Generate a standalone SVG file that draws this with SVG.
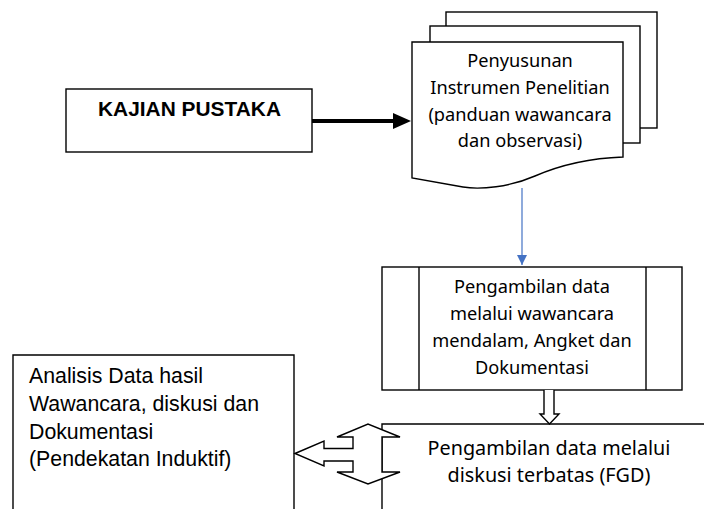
<svg xmlns="http://www.w3.org/2000/svg" width="704" height="509" viewBox="0 0 704 509">
<style>
.s{fill:#fff;stroke:#000;stroke-width:1.4}
.t{font-family:"Noto Sans","DejaVu Sans",sans-serif;font-size:18.2px;fill:#000;text-anchor:middle}
.f{font-size:19.8px}
.a{font-family:"Liberation Sans",Arial,sans-serif;font-size:21.3px;fill:#000}
</style>
<defs>
<marker id="blue" markerWidth="10" markerHeight="10" refX="10" refY="5" orient="auto" markerUnits="userSpaceOnUse">
<path d="M0,0 L10,5 L0,10 Z" fill="#4472C4"/>
</marker>
</defs>
<rect width="704" height="509" fill="#fff"/>
<g id="kajian">
<rect class="s" x="66" y="89" width="246" height="63"/>
<text x="189.5" y="116" font-family="'Liberation Sans',Arial,sans-serif" font-size="20.9" font-weight="bold" text-anchor="middle">KAJIAN PUSTAKA</text>
</g>
<g id="instrumen">
<rect class="s" x="446" y="12" width="211" height="116"/>
<rect class="s" x="430" y="26" width="210" height="117"/>
<path class="s" d="M412,42 L623,42 L623,157 C595,158 565,163 535,176 C510,187 480,190 463,187 L412,178 Z"/>
<text class="t" x="520" y="67">Penyusunan</text>
<text class="t" x="520" y="94">Instrumen Penelitian</text>
<text class="t" x="520" y="121">(panduan wawancara</text>
<text class="t" x="520" y="147">dan observasi)</text>
</g>
<g id="pengambilan">
<rect class="s" x="382" y="267" width="300" height="123"/>
<line class="s" x1="419" y1="267" x2="419" y2="390"/>
<line class="s" x1="646" y1="267" x2="646" y2="390"/>
<text class="t" x="532" y="293">Pengambilan data</text>
<text class="t" x="532" y="320">melalui wawancara</text>
<text class="t" x="532" y="347">mendalam, Angket dan</text>
<text class="t" x="532" y="374">Dokumentasi</text>
</g>
<g id="fgd">
<path class="s" d="M382,512 L382,424 L706,424 L706,512"/>
<text class="t f" x="549" y="455">Pengambilan data melalui</text>
<text class="t f" x="549" y="482">diskusi terbatas (FGD)</text>
</g>
<g id="analisis">
<path class="s" d="M13,512 L13,355 L294,355 L294,512"/>
<text class="a" x="29" y="383">Analisis Data hasil</text>
<text class="a" x="29" y="411">Wawancara, diskusi dan</text>
<text class="a" x="29" y="439">Dokumentasi</text>
<text class="a" x="29" y="466">(Pendekatan Induktif)</text>
</g>
<g id="connectors">
<line x1="312" y1="121" x2="394" y2="121" stroke="#000" stroke-width="4"/>
<path d="M393,113 L411,121 L393,129 Z" fill="#000"/>
<line x1="522" y1="188" x2="522" y2="265" stroke="#4472C4" stroke-width="1.2" marker-end="url(#blue)"/>
<path class="s" d="M544,390 L544,414 L540,414 L549.5,424 L559,414 L554,414 L554,390"/>
<path class="s" d="M295,453.5 L324,441 L324,448.5 L353,448.5 L353,437 L337,437 L368,424 L400,437 L382,437 L382,472 L400,472 L368,484 L337,472 L353,472 L353,461 L324,461 L324,466 Z"/>
</g>
</svg>
